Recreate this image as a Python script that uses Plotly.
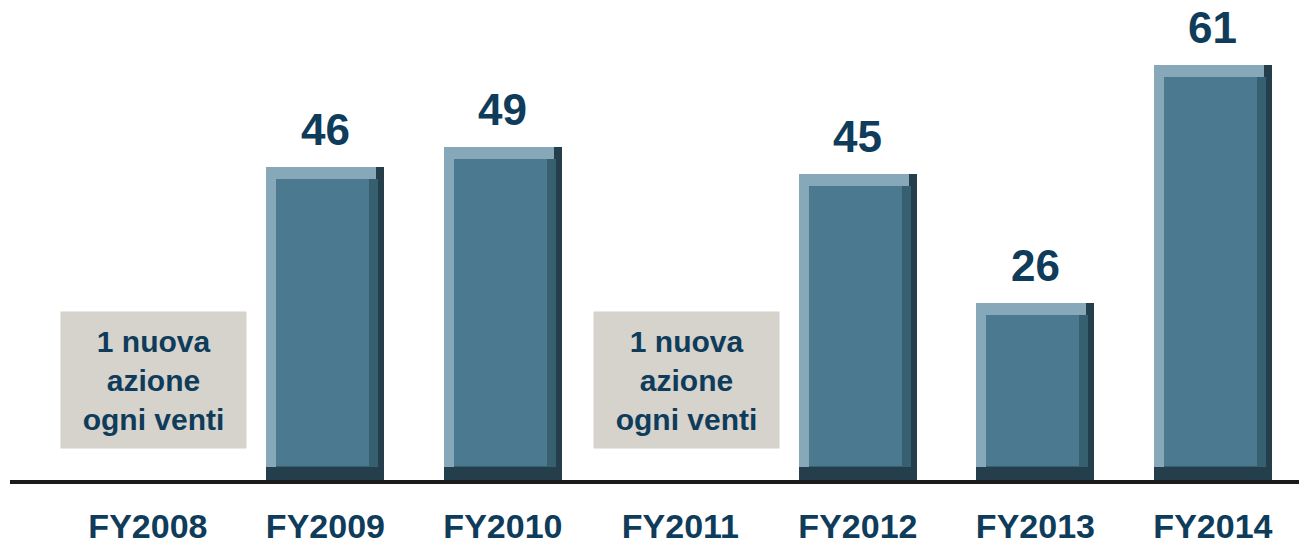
import plotly.graph_objects as go

categories = ["FY2008", "FY2009", "FY2010", "FY2011", "FY2012", "FY2013", "FY2014"]
bar_years = ["FY2009", "FY2010", "FY2012", "FY2013", "FY2014"]
bar_values = [46, 49, 45, 26, 61]
note_years = ["FY2008", "FY2011"]
note_text = "1 nuova<br>azione<br>ogni venti"

NAVY = "#0e3c5a"
FONT = "Liberation Sans, Arial, sans-serif"

idx = {c: i for i, c in enumerate(categories)}
xb = [idx[c] for c in bar_years]

W = 0.665
L = 0.056   # light left edge
R = 0.085   # dark right edge
B = 1.9     # dark bottom strip (data units)
T = 1.8     # light top strip

fig = go.Figure()
# dark shell
fig.add_trace(go.Bar(x=xb, y=bar_values, width=W, offset=-W / 2,
                     marker=dict(color="#243f4b", line=dict(width=0)), hoverinfo="skip"))
# light edge layer (left + top)
fig.add_trace(go.Bar(x=xb, y=[v - B for v in bar_values], base=[B] * len(bar_values),
                     width=W - R * 0.55, offset=-W / 2,
                     marker=dict(color="#86a8b8", line=dict(width=0)), hoverinfo="skip"))
# right-edge mid shade
fig.add_trace(go.Bar(x=xb, y=[v - B - T for v in bar_values], base=[B] * len(bar_values),
                     width=W - L - R * 0.4, offset=-W / 2 + L,
                     marker=dict(color="#36606f", line=dict(width=0)), hoverinfo="skip"))
# main face
fig.add_trace(go.Bar(x=xb, y=[v - B - T - 0.2 for v in bar_values], base=[B + 0.2] * len(bar_values),
                     width=W - L - R, offset=-W / 2 + L,
                     marker=dict(color="#4b7a90", line=dict(width=0)), hoverinfo="skip"))

# value labels
for x, v in zip(xb, bar_values):
    fig.add_annotation(x=x, y=v, yshift=38, text=f"<b>{v}</b>", showarrow=False,
                       yanchor="middle", height=38, borderpad=0,
                       font=dict(family=FONT, size=44, color=NAVY))

# note boxes
for c in note_years:
    fig.add_annotation(x=idx[c], y=14.7, xshift=6, text=f"<b>{note_text}</b>", showarrow=False,
                       yanchor="middle", xanchor="center", width=185, height=136,
                       bgcolor="#d6d2cc", borderpad=0,
                       font=dict(family=FONT, size=30, color=NAVY))

# page body has an 8px margin, so the figure is sized to the visible area
fig.update_layout(
    width=1299, height=537,
    margin=dict(l=2, r=0, t=0, b=65, autoexpand=False),
    paper_bgcolor="white", plot_bgcolor="white",
    barmode="overlay", bargap=0, showlegend=False,
    xaxis=dict(range=[-0.777, 6.530], tickmode="array", tickvals=list(range(len(categories))),
               ticktext=[f"<b>{c}</b>" for c in categories], automargin=False,
               showgrid=False, zeroline=False, showline=True, linewidth=4, linecolor="#1b1b1b",
               ticks="", ticklabelstandoff=13,
               tickfont=dict(family=FONT, size=34, color=NAVY), fixedrange=True),
    yaxis=dict(range=[0, 69.4], visible=False, automargin=False, fixedrange=True),
)

fig.write_html("out.html")
